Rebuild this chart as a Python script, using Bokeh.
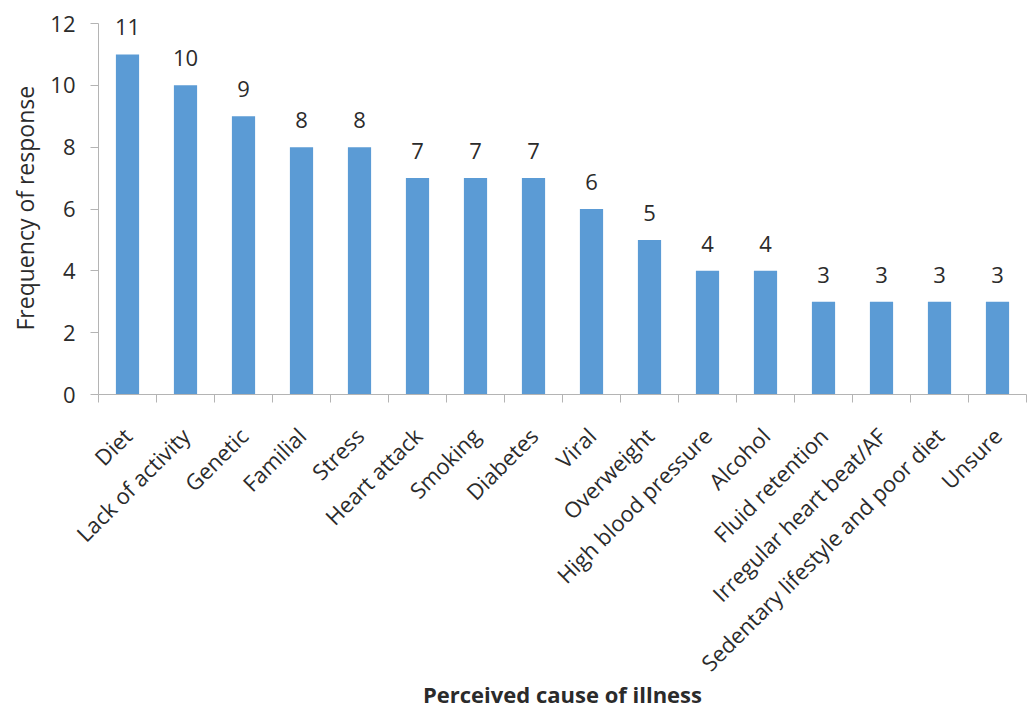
import math

from bokeh.core.properties import value
from bokeh.embed import file_html
from bokeh.models import ColumnDataSource, FixedTicker, LabelSet, Range1d, Title
from bokeh.plotting import figure
from bokeh.resources import INLINE

# Perceived causes of illness and how often each was given
causes = [
    "Diet", "Lack of activity", "Genetic", "Familial", "Stress", "Heart attack",
    "Smoking", "Diabetes", "Viral", "Overweight", "High blood pressure",
    "Alcohol", "Fluid retention", "Irregular heart beat/AF",
    "Sedentary lifestyle and poor diet", "Unsure",
]
frequency = [11, 10, 9, 8, 8, 7, 7, 7, 6, 5, 4, 4, 3, 3, 3, 3]
y_ticks = [0, 2, 4, 6, 8, 10, 12]

FONT = "Open Sans"
TEXT = "#2b2b2b"
AXIS = "#b4b4b4"
BAR = "#5B9BD5"

positions = list(range(len(causes)))
source = ColumnDataSource(dict(
    x=positions,
    top=frequency,
    label=[str(v) for v in frequency],
))

# a little headroom above 12 keeps the top value label inside the frame;
# the y axis line itself stops at 12
p = figure(
    width=1032, height=711,
    output_backend="svg", toolbar_location=None,
    x_range=Range1d(-0.5, len(causes) - 0.5),
    y_range=Range1d(0, 12.68),
    min_border_left=97, min_border_right=6,
    min_border_top=2, min_border_bottom=316,
)
p.outline_line_color = None
p.xgrid.visible = False
p.ygrid.visible = False
p.background_fill_color = "white"
p.border_fill_color = "white"

p.vbar(x="x", top="top", width=0.4, source=source,
       fill_color=BAR, line_color=None)

labels = LabelSet(x="x", y="top", text="label", source=source,
                  text_align="center", text_baseline="alphabetic",
                  y_offset=19, text_font=value(FONT), text_font_size="22px",
                  text_color=TEXT)
p.add_layout(labels)

# x axis: names under the bars, tick marks between the bars
xa = p.xaxis[0]
xa.ticker = FixedTicker(ticks=positions,
                        minor_ticks=[i - 0.5 for i in range(len(causes) + 1)])
xa.major_label_overrides = {i: c for i, c in enumerate(causes)}
xa.major_label_orientation = math.pi / 4
xa.major_tick_in = 0
xa.major_tick_out = 0
xa.minor_tick_in = 0
xa.minor_tick_out = 8
xa.minor_tick_line_color = AXIS
xa.axis_line_color = AXIS
xa.major_label_standoff = 29
xa.major_label_text_font = FONT
xa.major_label_text_font_size = "22px"
xa.major_label_text_color = TEXT
xa.axis_label = "Perceived cause of illness"
xa.axis_label_text_font = FONT
xa.axis_label_text_font_size = "22px"
xa.axis_label_text_font_style = "bold"
xa.axis_label_text_color = TEXT
xa.axis_label_standoff = -12

# y axis
ya = p.yaxis[0]
ya.bounds = (0, 12)
ya.ticker = FixedTicker(ticks=y_ticks)
ya.minor_tick_line_color = None
ya.major_tick_in = 0
ya.major_tick_out = 8
ya.major_tick_line_color = AXIS
ya.axis_line_color = AXIS
ya.major_label_standoff = 15
ya.major_label_text_font = FONT
ya.major_label_text_font_size = "22px"
ya.major_label_text_color = TEXT

# y title centred on the 0-12 span of the axis rather than on the frame
y_title = Title(text="Frequency of response", align="left", offset=64,
                text_font=FONT, text_font_size="23px",
                text_font_style="normal", text_color=TEXT, standoff=13)
p.add_layout(y_title, "left")

open("out.html", "w").write(file_html(p, INLINE))
